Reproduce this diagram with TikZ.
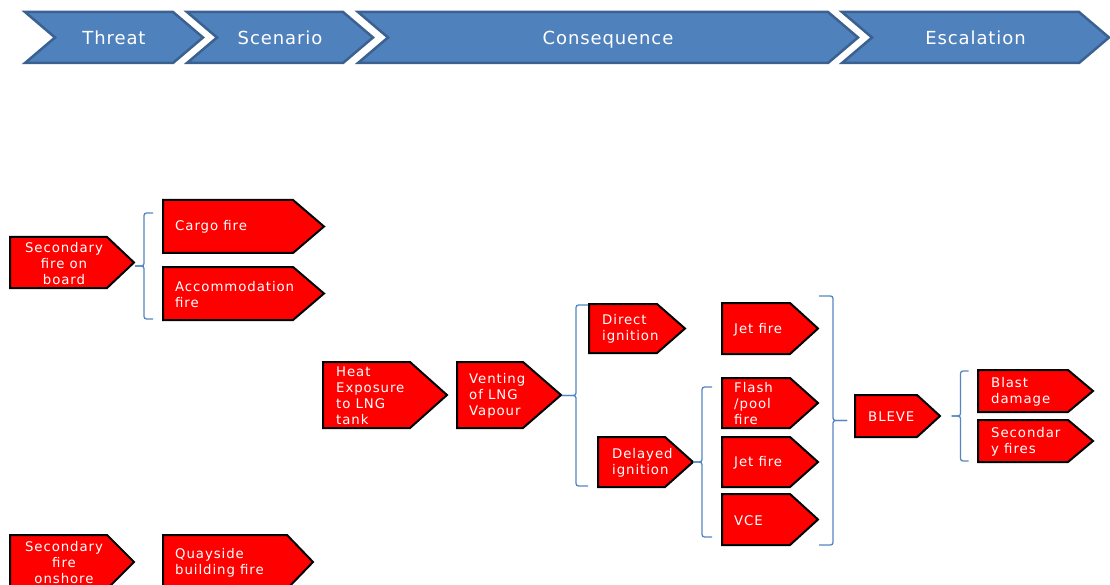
\documentclass[tikz,border=0pt]{standalone}
\usepackage{fontspec}
\newfontfamily\hdrfont[LetterSpace=5]{DejaVu Sans}
\newfontfamily\boxfont[LetterSpace=7]{DejaVu Sans}
\definecolor{hdrblue}{HTML}{4F81BD}
\definecolor{hdredge}{HTML}{3A6190}
\definecolor{bracecol}{HTML}{5585C0}
\definecolor{firered}{HTML}{FF0000}

\tikzset{
  chevron/.style={fill=hdrblue, draw=hdredge, line width=2.5pt, line join=miter},
  hdrtext/.style={text=white, font=\hdrfont\fontsize{18}{20}\selectfont, inner sep=0pt, anchor=base},
  firebox/.style={fill=firered, draw=black, line width=2pt, line join=miter},
  firetext/.style={text=white, font=\boxfont\fontsize{13.3}{16}\selectfont, inner sep=0pt, align=left},
  bracket/.style={draw=bracecol, line width=1.3pt, rounded corners=2.5pt},
}

% header chevron: name, left edge, right edge of the flat top, label
\newcommand\chevronbar[4]{%
  \draw[chevron] (#2,12) -- (#3,12) -- (#3+30,37.5) -- (#3,63) -- (#2,63) -- (#2+30,37.5) -- cycle;
  \node[hdrtext] (#1) at ({(#2+30+#3)/2},45) {#4};
}

% red pentagon box: [node options] name, left, top, right, tip, bottom, text x, text
\newcommand\firebox[9][anchor=west]{%
  \draw[firebox] (#3,#4) -- (#5,#4) -- (#6,{(#4+#7)/2}) -- (#5,#7) -- (#3,#7) -- cycle;
  \node[firetext, #1] (#2) at (#8,{(#4+#7)/2+0.8}) {#9};
}

% opening curly bracket: x, top, bottom, hook length, middle tick length
\newcommand\curlyopen[5]{%
  \draw[bracket] (#1+#4,#2) -- (#1,#2) -- (#1,{(#2+#3)/2}) -- (#1-#5,{(#2+#3)/2});
  \draw[bracket] (#1-#5,{(#2+#3)/2}) -- (#1,{(#2+#3)/2}) -- (#1,#3) -- (#1+#4,#3);
}
% closing curly bracket: x, top, bottom, hook length, middle tick length
\newcommand\curlyclose[5]{%
  \draw[bracket] (#1-#4,#2) -- (#1,#2) -- (#1,{(#2+#3)/2}) -- (#1+#5,{(#2+#3)/2});
  \draw[bracket] (#1+#5,{(#2+#3)/2}) -- (#1,{(#2+#3)/2}) -- (#1,#3) -- (#1-#4,#3);
}

\begin{document}
\begin{tikzpicture}[x=1pt, y=-1pt]
\useasboundingbox (0,0) rectangle (1110,585);
\clip (0,0) rectangle (1110,585);

% phase header
\chevronbar{threat}{25}{173}{Threat}
\chevronbar{scenario}{187}{343}{Scenario}
\chevronbar{consequence}{358}{828}{Consequence}
\chevronbar{escalation}{842}{1079}{Escalation}

% threats and scenarios
\firebox[align=center]{fireboard}{10}{237}{107}{134}{288}{64}{Secondary\\fire on\\board}
\firebox{cargo}{163}{200}{293}{324}{253}{175}{Cargo fire}
\firebox{accom}{163}{267}{293}{324}{320}{175}{Accommodation\\fire}
\firebox[align=center]{fireshore}{10}{535}{107}{134}{589}{64}{Secondary\\fire\\onshore}
\firebox{quayside}{163}{535}{287}{313}{589}{175}{Quayside\\building fire}

% consequence chain
\firebox{heat}{323}{362}{410}{447}{428}{336}{Heat\\Exposure\\to LNG\\tank}
\firebox{venting}{457}{362}{523}{561}{428}{469}{Venting\\of LNG\\Vapour}
\firebox{direct}{589}{304}{657}{685}{353}{602}{Direct\\ignition}
\firebox{delayed}{598}{437}{665}{693}{487}{612}{Delayed\\ignition}
\firebox{jettop}{722}{303}{790}{818}{354}{734}{Jet fire}
\firebox{flash}{722}{378}{790}{818}{428}{734}{Flash\\/pool\\fire}
\firebox{jetmid}{722}{437}{790}{818}{487}{734}{Jet fire}
\firebox{vce}{722}{494}{790}{818}{545}{734}{VCE}

% escalation
\firebox{bleve}{855}{395}{917}{940}{437}{868}{BLEVE}
\firebox{blast}{978}{370}{1068}{1093}{412}{991}{Blast\\damage}
\firebox{secfires}{978}{420}{1068}{1093}{462}{991}{Secondar\\y fires}

% grouping brackets
\curlyopen{144}{213}{319}{9}{9}
\curlyopen{576}{305}{486}{12}{14}
\curlyopen{702}{387}{537}{10}{9}
\curlyclose{833}{296}{545}{14}{14}
\curlyopen{960.5}{371}{461}{8}{9}
\end{tikzpicture}
\end{document}
